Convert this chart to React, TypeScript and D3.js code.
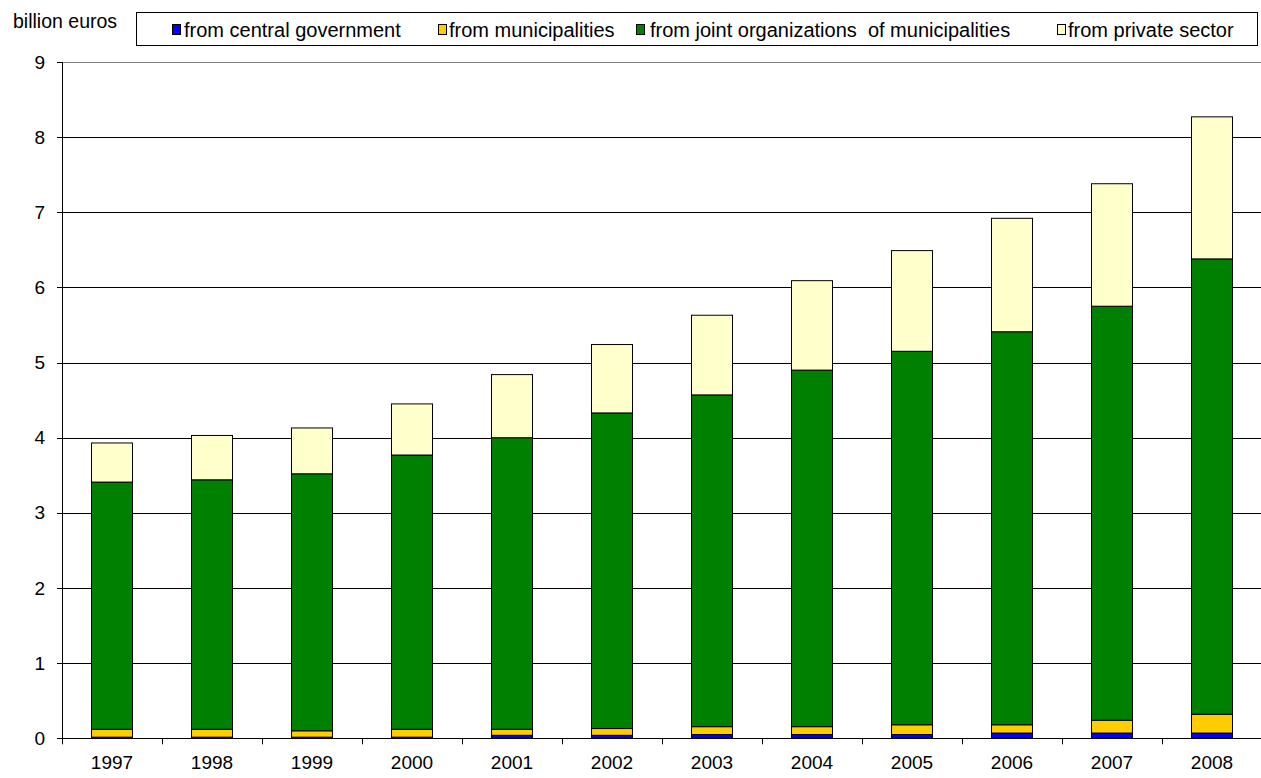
import React from "react";
import * as d3 from "d3";

const years = ["1997","1998","1999","2000","2001","2002","2003","2004","2005","2006","2007","2008"];
const centralGov = [0.015,0.015,0.015,0.015,0.04,0.04,0.05,0.05,0.05,0.07,0.07,0.07];
const municipalities = [0.105,0.105,0.085,0.105,0.08,0.09,0.105,0.105,0.13,0.11,0.17,0.25];
const jointOrgs = [3.29,3.32,3.42,3.65,3.88,4.20,4.415,4.745,4.97,5.23,5.51,6.06];
const privateSector = [0.52,0.59,0.61,0.68,0.84,0.91,1.06,1.19,1.34,1.51,1.63,1.89];
const yTicks = [0,1,2,3,4,5,6,7,8,9];

const seriesKeys = ["central","muni","joint","private"];
const seriesLabels = ["from central government","from municipalities","from joint organizations  of municipalities","from private sector"];
const seriesColors = ["#0000FF","#FFCC00","#008000","#FFFFCC"];

const FONT = "'Liberation Sans', Arial, sans-serif";

export default function App() {
  const W = 1261, H = 778;
  const left = 62, right = 1262, top = 62, bottom = 738.3;

  const rows = years.map((y, i) => ({
    year: y,
    central: centralGov[i],
    muni: municipalities[i],
    joint: jointOrgs[i],
    private: privateSector[i],
  }));
  const stacked = d3.stack<any>().keys(seriesKeys)(rows);

  const x = d3.scaleBand<string>().domain(years).range([left, right]).paddingInner(0.59).paddingOuter(0.295);
  const y = d3.scaleLinear().domain([0, 9]).range([bottom, top]);
  const step = x.step();

  const legendItems = [
    { sx: 172, tx: 184 },
    { sx: 438, tx: 449 },
    { sx: 636, tx: 650 },
    { sx: 1057, tx: 1068 },
  ];

  return (
    <svg width={W} height={H} style={{ position: "absolute", left: 0, top: 0, background: "#fff" }} fontFamily={FONT}>
      {/* gridlines */}
      {yTicks.filter(t => t > 0).map(t => (
        <line key={"g" + t} x1={left} x2={right} y1={Math.round(y(t)) + 0.5} y2={Math.round(y(t)) + 0.5}
          stroke={t === 9 ? "#808080" : "#000"} strokeWidth={1} />
      ))}
      {/* bars */}
      {stacked.map((s, si) => (
        <g key={s.key}>
          {s.map((d, i) => (
            <rect key={i} x={x(years[i])!} y={y(d[1])} width={x.bandwidth()} height={Math.max(0, y(d[0]) - y(d[1]))}
              fill={seriesColors[si]} stroke="#000" strokeWidth={1} />
          ))}
        </g>
      ))}
      {/* y axis */}
      <line x1={left + 0.5} x2={left + 0.5} y1={top} y2={bottom} stroke="#000" strokeWidth={1} />
      {yTicks.map(t => (
        <g key={"y" + t}>
          <line x1={left - 5} x2={left} y1={Math.round(y(t)) + 0.5} y2={Math.round(y(t)) + 0.5} stroke="#000" />
          <text x={45} y={y(t)} textAnchor="end" dominantBaseline="central" fontSize={19} fill="#000">{t}</text>
        </g>
      ))}
      {/* x axis */}
      <line x1={left} x2={right} y1={Math.round(bottom) + 0.5} y2={Math.round(bottom) + 0.5} stroke="#000" strokeWidth={1} />
      {years.map((yr, i) => (
        <g key={"x" + yr}>
          <line x1={left + i * step + 0.5} x2={left + i * step + 0.5} y1={bottom} y2={bottom + 6} stroke="#000" />
          <text x={x(yr)! + x.bandwidth() / 2} y={762} textAnchor="middle" dominantBaseline="central" fontSize={19} fill="#000">{yr}</text>
        </g>
      ))}
      {/* unit label */}
      <text x={13} y={21} dominantBaseline="central" fontSize={19.5} fill="#000">billion euros</text>
      {/* legend */}
      <rect x={136.5} y={12.5} width={1121} height={33} fill="#fff" stroke="#000" strokeWidth={1} />
      {seriesLabels.map((lab, i) => (
        <g key={lab}>
          <rect x={legendItems[i].sx + 0.5} y={24.5} width={8} height={10} fill={seriesColors[i]} stroke="#000" strokeWidth={1} />
          <text x={legendItems[i].tx} y={30} dominantBaseline="central" fontSize={20} fill="#000" style={{ whiteSpace: "pre" }}>{lab}</text>
        </g>
      ))}
    </svg>
  );
}
